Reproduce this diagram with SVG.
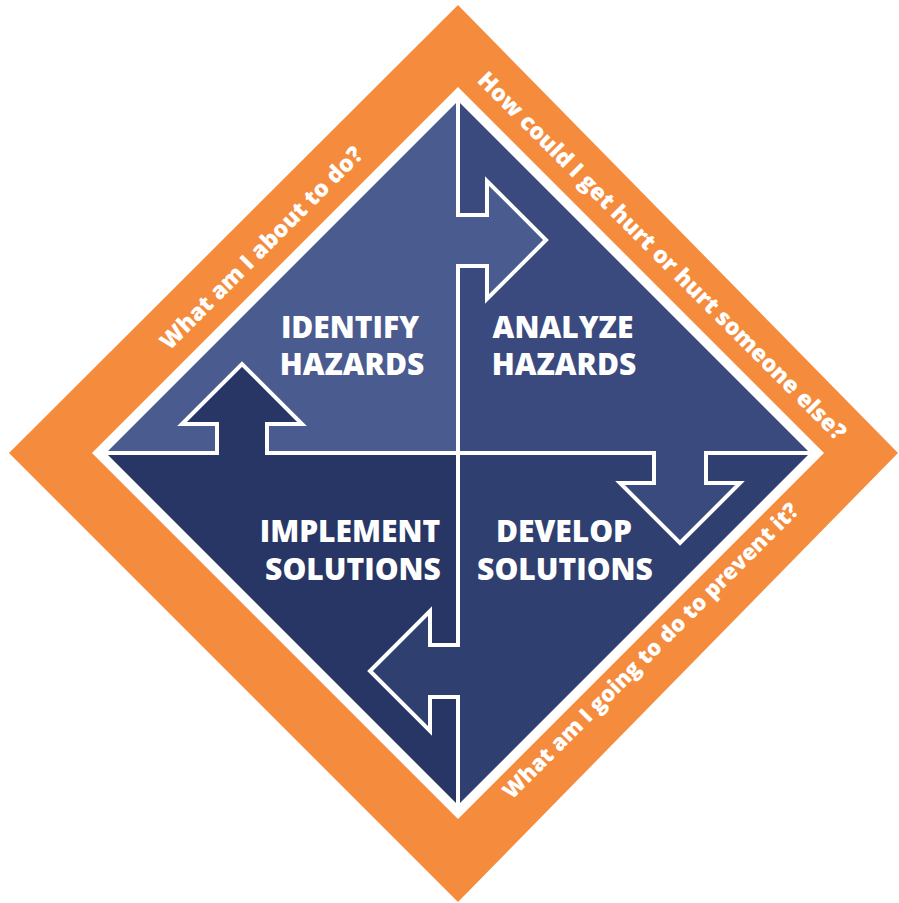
<svg xmlns="http://www.w3.org/2000/svg" width="899" height="903" viewBox="0 0 899 903">
  <style>
    .band { fill: #f58c3d; }
    .rim { fill: #ffffff; }
    .q-tl { fill: #4a5b8f; }
    .q-tr { fill: #3a4a7f; }
    .q-bl { fill: #273664; }
    .q-br { fill: #2f3f70; }
    .divider { fill: none; stroke: #ffffff; stroke-width: 4; stroke-linejoin: miter; }
    .title { font-family: "Open Sans", "Liberation Sans", sans-serif; font-weight: 800; font-size: 30px; fill: #ffffff; text-anchor: middle; }
    .question { font-family: "Open Sans", "Liberation Sans", sans-serif; font-weight: 800; font-size: 23px; fill: #ffffff; text-anchor: middle; }
  </style>

  <!-- outer orange band and white rim -->
  <g id="frame">
    <polygon class="band" points="458,5 898,453 458,902 9,453"/>
    <polygon class="rim" points="458,87 824,453 458,819 92,453"/>
  </g>

  <!-- four quadrants, each extending into the next through an arrow -->
  <g id="identify-hazards">
    <polygon class="q-tl" points="106,453 458,101 458,215 487,215 487,181 546,240 487,299 487,266 458,266 458,453 267,453 267,424 302,424 242,364 182,424 217,424 217,453"/>
    <text class="title" x="350" y="338">IDENTIFY</text>
    <text class="title" x="352" y="375">HAZARDS</text>
  </g>
  <g id="analyze-hazards">
    <polygon class="q-tr" points="458,101 810,453 706,453 706,483 740,483 680,543 620,483 654,483 654,453 458,453 458,266 487,266 487,299 546,240 487,181 487,215 458,215"/>
    <text class="title" x="563" y="338">ANALYZE</text>
    <text class="title" x="564" y="375">HAZARDS</text>
  </g>
  <g id="develop-solutions">
    <polygon class="q-br" points="810,453 458,805 458,697 430,697 430,731 370,671 430,611 430,645 458,645 458,453 654,453 654,483 620,483 680,543 740,483 706,483 706,453"/>
    <text class="title" x="564" y="542">DEVELOP</text>
    <text class="title" x="565" y="580">SOLUTIONS</text>
  </g>
  <g id="implement-solutions">
    <polygon class="q-bl" points="458,805 106,453 217,453 217,424 182,424 242,364 302,424 267,424 267,453 458,453 458,645 430,645 430,611 370,671 430,731 430,697 458,697"/>
    <text class="title" x="350" y="542">IMPLEMENT</text>
    <text class="title" x="353" y="580">SOLUTIONS</text>
  </g>

  <!-- white dividing lines with arrow outlines -->
  <g id="connectors">
    <polyline class="divider" points="458,101 458,215 487,215 487,181 546,240 487,299 487,266 458,266 458,453"/>
    <polyline class="divider" points="458,453 654,453 654,483 620,483 680,543 740,483 706,483 706,453 810,453"/>
    <polyline class="divider" points="458,453 458,645 430,645 430,611 370,671 430,731 430,697 458,697 458,805"/>
    <polyline class="divider" points="458,453 267,453 267,424 302,424 242,364 182,424 217,424 217,453 106,453"/>
  </g>

  <!-- questions printed along the orange band -->
  <g id="questions">
    <text class="question" transform="translate(267,253.5) rotate(-45)">What am I about to do?</text>
    <text class="question" transform="translate(656.5,261.5) rotate(45)">How could I get hurt or hurt someone else?</text>
    <text class="question" style="font-size:22px" transform="translate(656,656) rotate(-45)">What am I going to do to prevent it?</text>
  </g>
</svg>
